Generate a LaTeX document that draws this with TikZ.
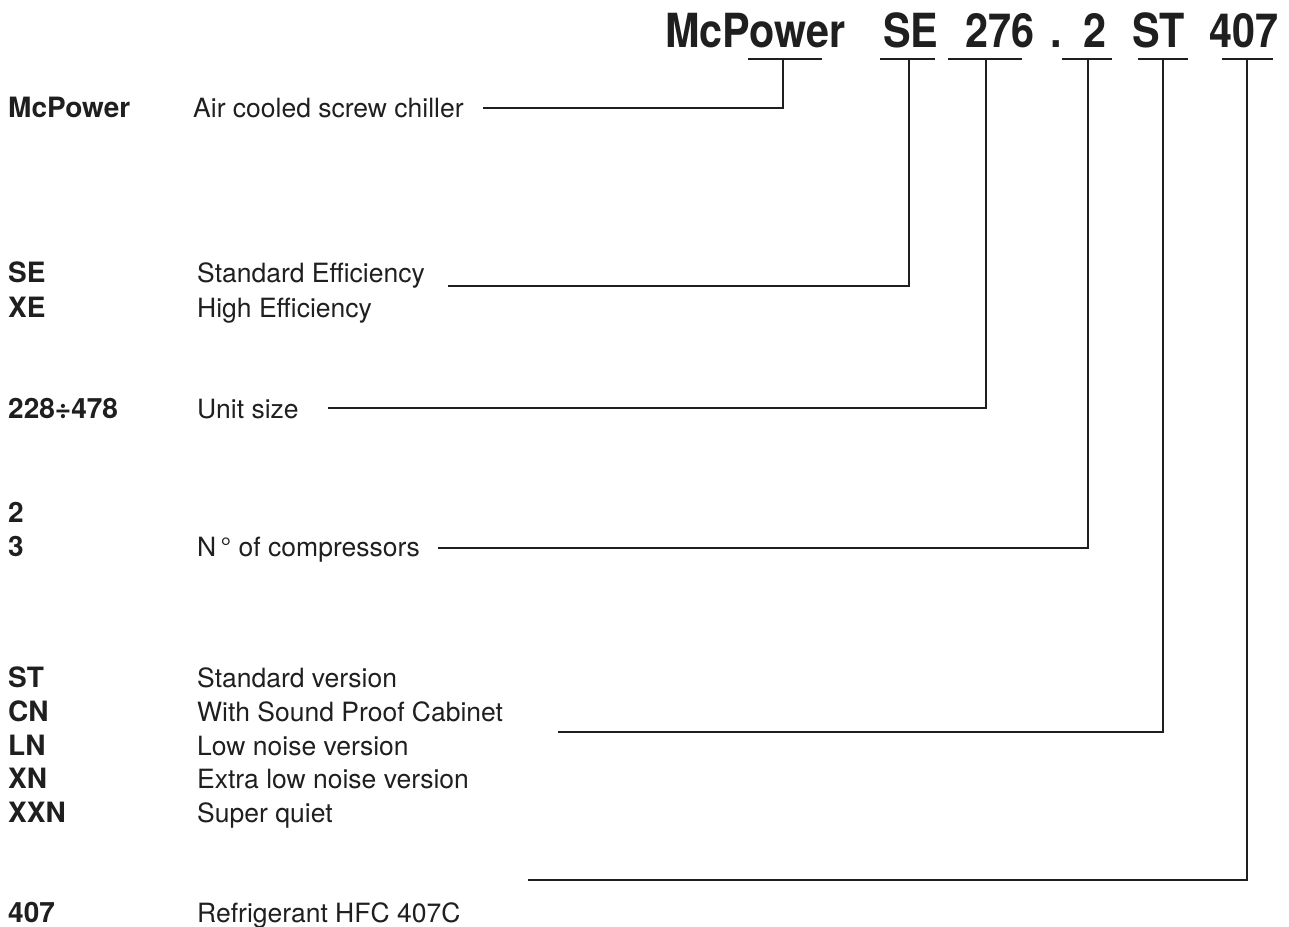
\documentclass[tikz,border=0pt]{standalone}
\usepackage{fontspec}
\setmainfont{TeX Gyre Heros}
\begin{document}
\begin{tikzpicture}[x=1pt,y=-1pt,
  conn/.style={line width=1.7pt,draw=black!88},
  title/.style={anchor=base west,inner sep=0pt,font=\fontsize{47}{50}\selectfont\bfseries,text=black!88},
  code/.style={anchor=base west,inner sep=0pt,font=\fontsize{28}{32}\selectfont\bfseries,text=black!88},
  desc/.style={anchor=base west,inner sep=0pt,font=\fontsize{26.5}{30}\selectfont,text=black!88}]
\useasboundingbox (0,0) rectangle (1289,926);
% title pieces
\node[title] (tMc) at (665,47) {\scalebox{0.88}[1]{McPower}};
\node[title] (tSE) at (883,47) {\scalebox{0.88}[1]{SE}};
\node[title] (t276) at (965,47) {\scalebox{0.88}[1]{276}};
\node[title] (tdot) at (1050,47) {\scalebox{0.88}[1]{.}};
\node[title] (t2) at (1083,47) {\scalebox{0.88}[1]{2}};
\node[title] (tST) at (1132,47) {\scalebox{0.88}[1]{ST}};
\node[title] (t407) at (1209,47) {\scalebox{0.88}[1]{407}};
% left codes
\node[code] (cMc) at (8,117) {McPower};
\node[code] (cSE) at (8,282) {SE};
\node[code] (cXE) at (8,317) {XE};
\node[code] (cUS) at (8,418) {228÷478};
\node[code] (c2) at (8,522) {2};
\node[code] (c3) at (8,556) {3};
\node[code] (cST) at (8,687) {ST};
\node[code] (cCN) at (8,721) {CN};
\node[code] (cLN) at (8,755) {LN};
\node[code] (cXN) at (8,788) {XN};
\node[code] (cXXN) at (8,822) {XXN};
\node[code] (c407) at (8,922) {407};
% descriptions
\node[desc] (dMc) at (193,117) {Air cooled screw chiller};
\node[desc] (dSE) at (197,282) {Standard Efficiency};
\node[desc] (dXE) at (197,317) {High Efficiency};
\node[desc] (dUS) at (197,418) {Unit size};
\node[desc] (dN) at (197,556) {N\,° of compressors};
\node[desc] (dST) at (197,687) {Standard version};
\node[desc] (dCN) at (197,721) {With Sound Proof Cabinet};
\node[desc] (dLN) at (197,755) {Low noise version};
\node[desc] (dXN) at (197,788) {Extra low noise version};
\node[desc] (dXXN) at (197,822) {Super quiet};
\node[desc] (d407) at (197,922) {Refrigerant HFC 407C};
% underline tops
\coordinate (uMc) at (783,59);
\coordinate (uSE) at (909,59);
\coordinate (u276) at (986,59);
\coordinate (u2) at (1088,59);
\coordinate (uST) at (1163,59);
\coordinate (u407) at (1247,59);
% underlines
\draw[conn] (748,59) -- (822,59);
\draw[conn] (880,59) -- (935,59);
\draw[conn] (948,59) -- (1022,59);
\draw[conn] (1062,59) -- (1112,59);
\draw[conn] (1138,59) -- (1188,59);
\draw[conn] (1222,59) -- (1273,59);
% free ends
\coordinate (eMc) at (483,108);
\coordinate (eSE) at (448,286);
\coordinate (e276) at (328,408);
\coordinate (e2) at (438,548);
\coordinate (eST) at (558,732);
\coordinate (e407) at (528,880);
% connectors
\draw[conn] (uMc) |- (eMc);
\draw[conn] (uSE) |- (eSE);
\draw[conn] (u276) |- (e276);
\draw[conn] (u2) |- (e2);
\draw[conn] (uST) |- (eST);
\draw[conn] (u407) |- (e407);
\end{tikzpicture}
\end{document}
